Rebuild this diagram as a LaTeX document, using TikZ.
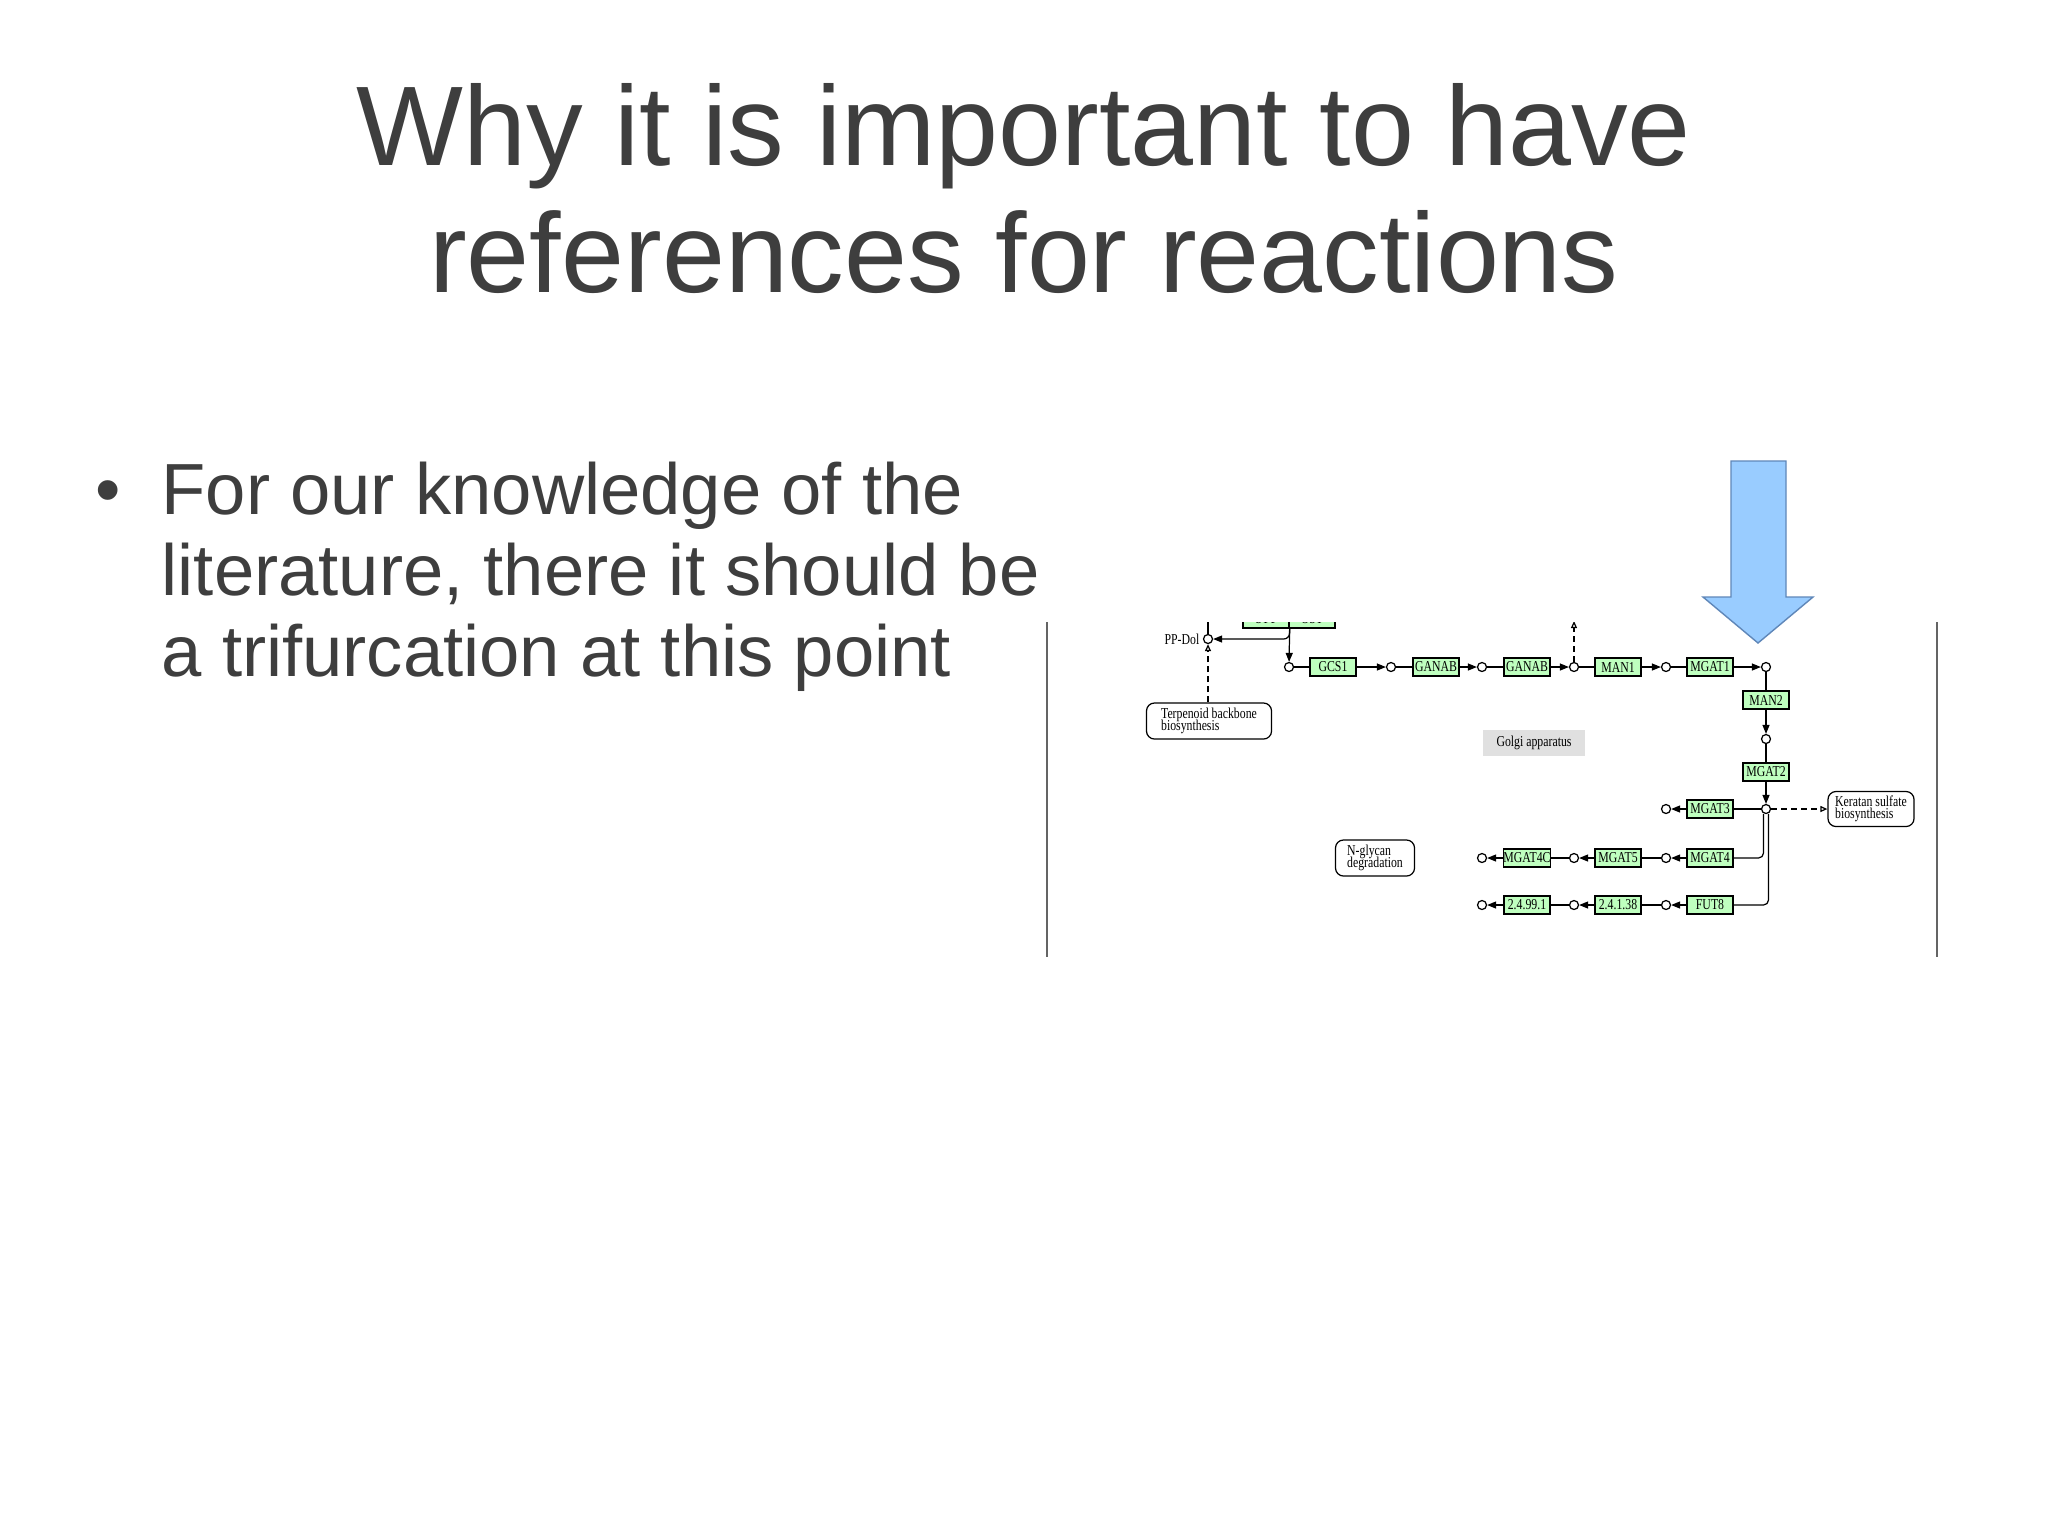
\documentclass[tikz,border=0pt]{standalone}
\usepackage{fontspec}
\setmainfont{Liberation Sans}
\newfontfamily\keggfont[FakeStretch=0.78]{Liberation Serif}
\newcommand\keggsize{\fontsize{4.3}{3.3}\selectfont\lineskiplimit=-5pt\relax\lineskip=0pt\relax}
\usetikzlibrary{arrows.meta}
\definecolor{txt}{RGB}{62,62,62}
\definecolor{kgreen}{RGB}{191,255,191}
\definecolor{bluearrow}{RGB}{153,204,255}
\definecolor{bluedge}{RGB}{95,135,185}
\definecolor{golgigray}{RGB}{224,224,224}
\definecolor{sidegray}{RGB}{100,100,100}
\begin{document}
\begin{tikzpicture}[x=0.01cm,y=-0.01cm,
  ttl/.style={anchor=base, text=txt, font=\fontsize{32.2}{38}\selectfont, inner sep=0},
  bodytxt/.style={anchor=base west, text=txt, font=\fontsize{20.6}{24}\selectfont, inner sep=0},
  kfont/.style={font=\keggfont\keggsize},
  genebox/.style={kfont, draw=black, fill=kgreen, line width=0.35pt, minimum width=0.46cm, minimum height=0.18cm, inner sep=0},
  cpdc/.style={circle, draw=black, fill=white, line width=0.35pt, minimum size=0.09cm, inner sep=0},
  mapbox/.style={kfont, draw=black, rounded corners=0.08cm, line width=0.35pt, align=left, inner sep=0},
  kline/.style={line width=0.35pt, draw=black},
  rxarrow/.style={kline, -{Triangle[length=0.09cm,width=0.07cm]}},
  relarrow/.style={kline, dash pattern=on 0.06cm off 0.04cm, -{Triangle[open,length=0.07cm,width=0.06cm]}},
  sideline/.style={line width=0.6pt, draw=sidegray}
]
\useasboundingbox (0,0) rectangle (2048,1535);
\fill[white] (0,0) rectangle (2048,1535);

% title
\node[ttl] (t1) at (1024,165) {Why it is important to have};
\node[ttl] (t2) at (1024,292) {references for reactions};

% bullet text
\node[bodytxt, anchor=base] (bul) at (108,514) {\textbullet};
\node[bodytxt] (l1) at (161,514) {For our knowledge of the};
\node[bodytxt] (l2) at (161,595) {literature, there it should be};
\node[bodytxt] (l3) at (161,676) {a trifurcation at this point};

% KEGG map excerpt
\begin{scope}
\clip (1040,622) rectangle (1950,1000);
\draw[sideline] (1047,600) -- (1047,957);
\draw[sideline] (1937,600) -- (1937,957);

\node[genebox] (ostA) at (1266,619) {STT};
\node[genebox] (ostB) at (1312,619) {OST};

\node[cpdc] (c0) at (1208,639) {};
\node[kfont, anchor=east, inner sep=0] (ppdol) at (1200,639) {PP-Dol};
\coordinate (c0up) at (1208,600);
\draw[kline] (c0up) -- (c0);
\node[mapbox, minimum width=1.25cm, minimum height=0.36cm] (terp) at (1209,721) {Terpenoid backbone\\biosynthesis};
\draw[relarrow] (terp.north -| c0) -- (c0);

\node[cpdc] (c1) at (1289,667) {};
\draw[rxarrow] (ostA.south east) -- (c1);
\draw[rxarrow, rounded corners=0.06cm] (ostA.south east) |- (c0);

\node[genebox] (gcs1) at (1333,667) {GCS1};
\node[cpdc] (c2) at (1391,667) {};
\node[genebox] (ganab1) at (1436,667) {GANAB};
\node[cpdc] (c3) at (1482,667) {};
\node[genebox] (ganab2) at (1527,667) {GANAB};
\node[cpdc] (c4) at (1574,667) {};
\node[genebox] (man1) at (1618,667) {MAN1};
\node[cpdc] (c5) at (1666,667) {};
\node[genebox] (mgat1) at (1710,667) {MGAT1};
\node[cpdc] (c6) at (1766,667) {};
\coordinate (c4up) at (1574,621);

\draw[kline] (c1) -- (gcs1);
\draw[rxarrow] (gcs1) -- (c2);
\draw[kline] (c2) -- (ganab1);
\draw[rxarrow] (ganab1) -- (c3);
\draw[kline] (c3) -- (ganab2);
\draw[rxarrow] (ganab2) -- (c4);
\draw[relarrow] (c4) -- (c4up);
\draw[kline] (c4) -- (man1);
\draw[rxarrow] (man1) -- (c5);
\draw[kline] (c5) -- (mgat1);
\draw[rxarrow] (mgat1) -- (c6);

\node[genebox] (man2) at (1766,700) {MAN2};
\node[cpdc] (c7) at (1766,739) {};
\node[genebox] (mgat2) at (1766,772) {MGAT2};
\node[cpdc] (c8) at (1766,809) {};
\draw[kline] (c6) -- (man2);
\draw[rxarrow] (man2) -- (c7);
\draw[kline] (c7) -- (mgat2);
\draw[rxarrow] (mgat2) -- (c8);

\node[kfont, fill=golgigray, minimum width=1.02cm, minimum height=0.26cm, inner sep=0] (golgi) at (1534,743) {Golgi apparatus};

\node[genebox] (mgat3) at (1710,809) {MGAT3};
\node[cpdc] (c9) at (1666,809) {};
\draw[kline] (c8) -- (mgat3);
\draw[rxarrow] (mgat3) -- (c9);

\node[mapbox, minimum width=0.86cm, minimum height=0.35cm] (kera) at (1871,809) {Keratan sulfate\\biosynthesis};
\draw[relarrow] (c8) -- (kera);

\node[genebox] (mgat4) at (1710,858) {MGAT4};
\node[cpdc] (c10) at (1666,858) {};
\node[genebox] (mgat5) at (1618,858) {MGAT5};
\node[cpdc] (c11) at (1574,858) {};
\node[genebox] (mgat4c) at (1527,858) {MGAT4C};
\node[cpdc] (c12) at (1482,858) {};
\draw[kline, rounded corners=0.05cm] ([xshift=-0.025cm]c8.south) |- (mgat4);
\draw[rxarrow] (mgat4) -- (c10);
\draw[kline] (c10) -- (mgat5);
\draw[rxarrow] (mgat5) -- (c11);
\draw[kline] (c11) -- (mgat4c);
\draw[rxarrow] (mgat4c) -- (c12);

\node[genebox] (fut8) at (1710,905) {FUT8};
\node[cpdc] (c13) at (1666,905) {};
\node[genebox] (ec1) at (1618,905) {2.4.1.38};
\node[cpdc] (c14) at (1574,905) {};
\node[genebox] (ec2) at (1527,905) {2.4.99.1};
\node[cpdc] (c15) at (1482,905) {};
\draw[kline, rounded corners=0.05cm] ([xshift=0.025cm]c8.south) |- (fut8);
\draw[rxarrow] (fut8) -- (c13);
\draw[kline] (c13) -- (ec1);
\draw[rxarrow] (ec1) -- (c14);
\draw[kline] (c14) -- (ec2);
\draw[rxarrow] (ec2) -- (c15);

\node[mapbox, minimum width=0.79cm, minimum height=0.36cm] (ngly) at (1375,858) {N-glycan\\degradation};
\end{scope}

% big blue arrow
\filldraw[fill=bluearrow, draw=bluedge, line width=0.4pt]
  (1731,461) -- (1786,461) -- (1786,597) -- (1813,597) -- (1758,643)
  -- (1703,597) -- (1731,597) -- cycle;
\end{tikzpicture}
\end{document}
